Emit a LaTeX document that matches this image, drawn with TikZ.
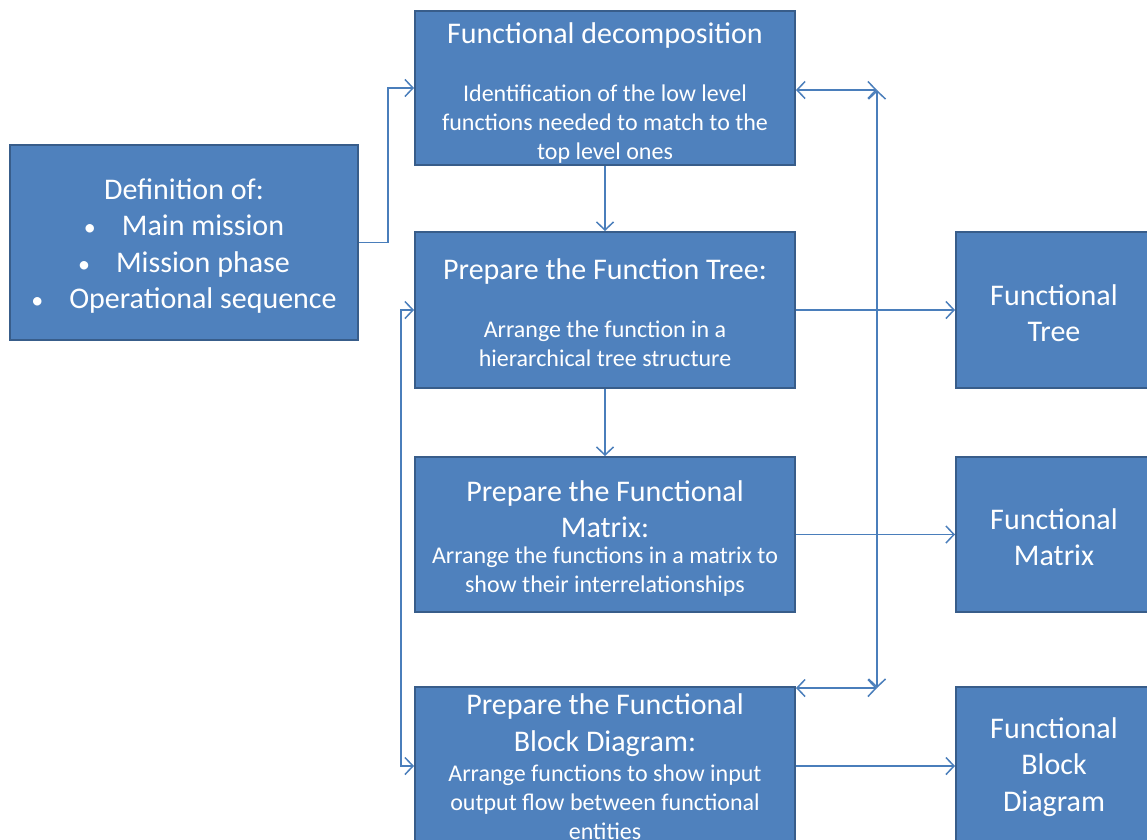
\documentclass[tikz,border=0pt]{standalone}
\usepackage{fontspec}
\setmainfont{Carlito}
\usetikzlibrary{arrows.meta}
\definecolor{boxfill}{HTML}{4F81BD}
\definecolor{boxedge}{HTML}{385D8A}
\definecolor{linkc}{HTML}{4A7EBB}
\tikzset{
  box/.style={draw=boxedge, fill=boxfill, line width=2pt, inner sep=0pt,
              minimum width=380pt, minimum height=155pt},
  sidebox/.style={box, minimum width=196pt},
  big/.style={text=white, align=center, inner sep=0pt,
              font=\fontsize{30}{36.5}\selectfont},
  small/.style={text=white, align=center, inner sep=0pt,
                font=\fontsize{24}{29}\selectfont},
  barb/.tip={Straight Barb[length=8pt,width=17pt,line width=1.5pt]},
  link/.style={draw=linkc, line width=1.5pt, -barb},
  twoway/.style={draw=linkc, line width=1.5pt, barb-barb},
}
\begin{document}
\begin{tikzpicture}[x=1pt,y=-1pt]
  \clip (0,0) rectangle (1147,839);
  \fill[white] (0,0) rectangle (1147,839);

  % process boxes
  \node[box, minimum width=348pt, minimum height=195pt] (def) at (184,242.5) {};
  \node[box, minimum height=154pt] (decomp) at (605,88) {};
  \node[box, minimum height=156pt] (tree) at (605,310) {};
  \node[box] (matrix) at (605,534.5) {};
  \node[box, minimum height=158pt] (block) at (605,766) {};

  % result boxes
  \node[sidebox, minimum height=156pt] (ftree) at (1054,310) {};
  \node[sidebox] (fmatrix) at (1054,534.5) {};
  \node[sidebox, minimum height=158pt] (fblock) at (1054,766) {};

  % texts
  \node[big] (defT) at (184,246) {Definition of:\\
    {\fontsize{24}{29}\selectfont•}\hspace{26pt}Main mission\\
    {\fontsize{24}{29}\selectfont•}\hspace{26pt}Mission phase\\
    {\fontsize{24}{29}\selectfont•}\hspace{26pt}Operational sequence};

  \node[big] (decompT) at (605,35) {Functional decomposition};
  \node[small] (decompB) at (605,124) {Identification of the low level\\
    functions needed to match to the\\top level ones};

  \node[big] (treeT) at (605,271) {Prepare the Function Tree:};
  \node[small] (treeB) at (605,344) {Arrange the function in a\\hierarchical tree structure};

  \node[big] (matrixT) at (605,509) {Prepare the Functional\\Matrix:};
  \node[small] (matrixB) at (605,572) {Arrange the functions in a matrix to\\show their interrelationships};

  \node[big] (blockT) at (605,725) {Prepare the Functional\\Block Diagram:};
  \node[small] (blockB) at (605,802) {Arrange functions to show input\\output flow between functional\\entities};

  \node[big] (ftreeT) at (1054,313) {Functional\\Tree};
  \node[big] (fmatrixT) at (1054,537) {Functional\\Matrix};
  \node[big] (fblockT) at (1054,767) {Functional\\Block\\Diagram};

  % bus lines
  \coordinate (rbusTop) at (877,90);
  \coordinate (rbusBot) at (877,688);
  \coordinate (lbus) at (401,0);

  % connectors
  \draw[link] (def.east) -- ++(29,0) |- (decomp.west);
  \draw[link] (decomp.south) -- (tree.north);
  \draw[link] (tree.south) -- (matrix.north);
  \draw[link] (tree.east) -- (ftree.west);
  \draw[link] (matrix.east) -- (fmatrix.west);
  \draw[link] (block.east) -- (fblock.west);

  \draw[twoway] (decomp.east |- rbusTop) -- (rbusTop);
  \draw[twoway] (block.east |- rbusBot) -- (rbusBot);
  \draw[twoway] (rbusTop) -- (rbusBot);
  \draw[twoway] (tree.west) -- (tree.west -| lbus) -- (block.west -| lbus) -- (block.west);
\end{tikzpicture}
\end{document}
